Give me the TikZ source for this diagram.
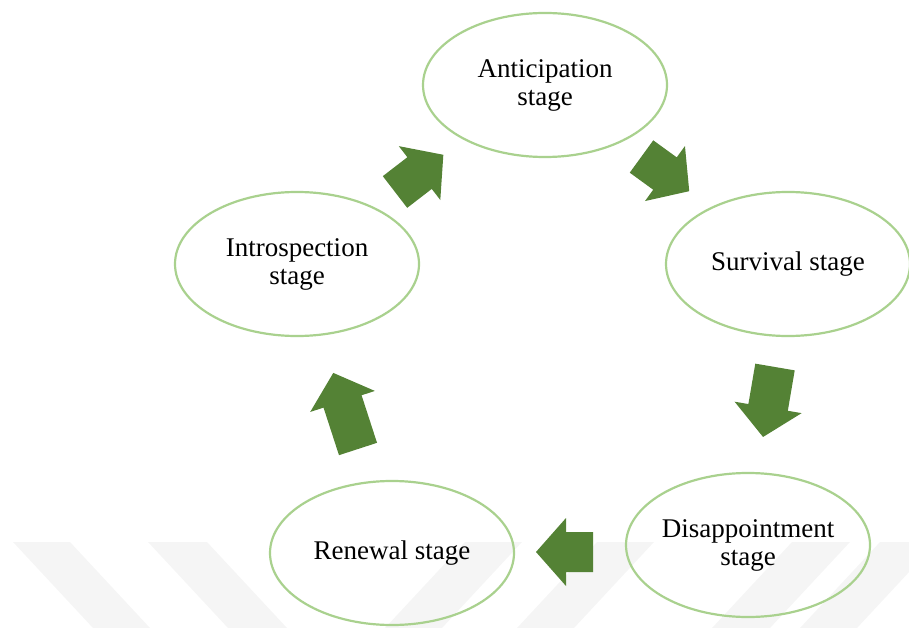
\documentclass[tikz,border=0pt]{standalone}
\usepackage{fontspec}
\setmainfont{Liberation Serif}
\usetikzlibrary{shapes.geometric}

\definecolor{stageline}{HTML}{A9D18E}
\definecolor{arrowgreen}{HTML}{548235}
\definecolor{wmgray}{HTML}{F5F5F5}

\begin{document}
\begin{tikzpicture}[
  x=1pt, y=-1pt,
  every node/.style={font=\fontsize{27}{28}\selectfont, align=center},
  stage/.style={ellipse, draw=stageline, line width=2.2pt,
                minimum width=244pt, minimum height=144pt, inner sep=0pt},
  wmband/.style={fill=wmgray, draw=none},
  pics/blockarrow/.style={code={
    \fill[arrowgreen] (0,-20) -- (#1,-20) -- (#1,-34) -- (#1+30,0)
                      -- (#1,34) -- (#1,20) -- (0,20) -- cycle;}}
]
  \useasboundingbox (0,0) rectangle (909,628);

  % faint watermark bands at the bottom
  \fill[wmband] (13,542) -- (70,542) -- (150,628) -- (93,628) -- cycle;
  \fill[wmband] (148,542) -- (207,542) -- (287,628) -- (228,628) -- cycle;
  \fill[wmband] (465,542) -- (522,542) -- (442,628) -- (385,628) -- cycle;
  \fill[wmband] (597,542) -- (654,542) -- (574,628) -- (517,628) -- cycle;
  \fill[wmband] (792,542) -- (850,542) -- (770,628) -- (712,628) -- cycle;
  \fill[wmband] (880,542) -- (937,542) -- (857,628) -- (800,628) -- cycle;

  \node[stage] (anticipation) at (545,85) {Anticipation\\stage};
  \node[stage] (survival) at (788,264) {Survival stage};
  \node[stage] (disappointment) at (748,545) {Disappointment\\stage};
  \node[stage] (renewal) at (392,553) {Renewal stage};
  \node[stage] (introspection) at (297,264) {Introspection\\stage};

  \pic[rotate=37.6] at (395,192) {blockarrow=31};
  \pic[rotate=-36] at (641.5,156.5) {blockarrow=29};
  \pic[rotate=-99.7] at (775,367) {blockarrow=41};
  \pic[rotate=180] at (593,552) {blockarrow=27};
  \pic[rotate=108] at (358,449) {blockarrow=50};
\end{tikzpicture}
\end{document}
